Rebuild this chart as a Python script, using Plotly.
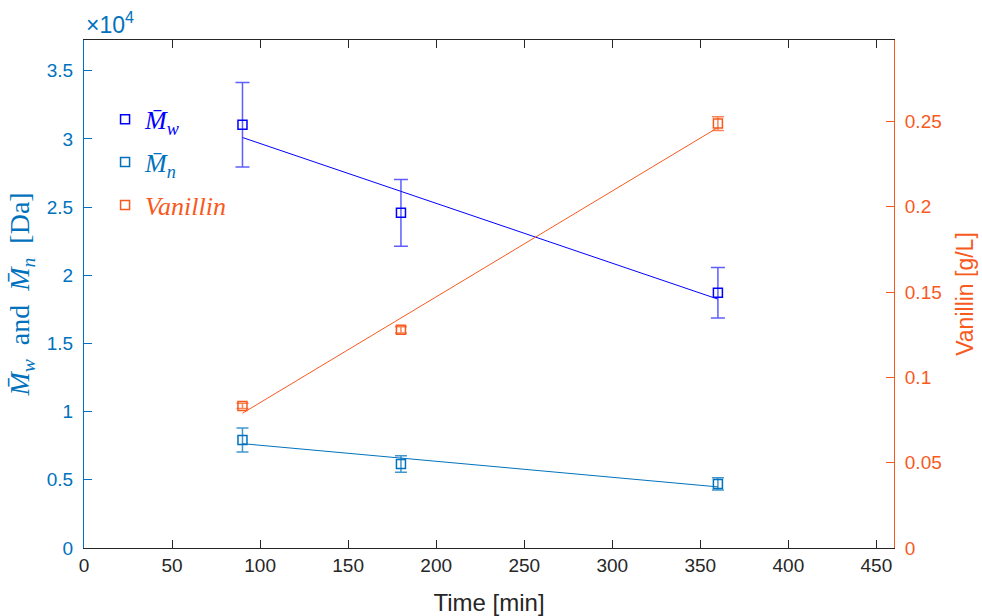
import plotly.graph_objects as go
from plotly.subplots import make_subplots

# ---- data ----
time_min = [90, 180, 360]
mw = [31040, 24580, 18710]
mw_err = [3100, 2450, 1850]
mn = [7920, 6160, 4700]
mn_err = [880, 600, 450]
vanillin = [0.0833, 0.1279, 0.2488]
vanillin_err = [0.0015, 0.0018, 0.0040]

# fitted straight lines (end points)
fit_time = [90, 360]
mw_fit = [30100, 18250]
mn_fit = [7650, 4480]
vanillin_fit = [0.0790, 0.2465]

x_ticks = [0, 50, 100, 150, 200, 250, 300, 350, 400, 450]
left_tickvals = [0, 5000, 10000, 15000, 20000, 25000, 30000, 35000]
left_ticktext = ["0", "0.5", "1", "1.5", "2", "2.5", "3", "3.5"]
right_tickvals = [0, 0.05, 0.1, 0.15, 0.2, 0.25]
right_ticktext = ["0", "0.05", "0.1", "0.15", "0.2", "0.25"]

C_MW = "#0000FF"
C_MN = "#0072BD"
C_VAN = "#F85A1E"
C_AX = "#262626"
SANS = "Liberation Sans, Arial, sans-serif"
SERIF = "Liberation Serif, DejaVu Serif, serif"
NB = "\u00a0"

fig = make_subplots(specs=[[{"secondary_y": True}]])

# fit lines
fig.add_trace(go.Scatter(x=fit_time, y=mw_fit, mode="lines",
                         line=dict(color=C_MW, width=1), showlegend=False,
                         hoverinfo="skip"), secondary_y=False)
fig.add_trace(go.Scatter(x=fit_time, y=mn_fit, mode="lines",
                         line=dict(color=C_MN, width=1), showlegend=False,
                         hoverinfo="skip"), secondary_y=False)
fig.add_trace(go.Scatter(x=fit_time, y=vanillin_fit, mode="lines",
                         line=dict(color=C_VAN, width=1), showlegend=False,
                         hoverinfo="skip"), secondary_y=True)

# data points with error bars
fig.add_trace(go.Scatter(
    x=time_min, y=mw, mode="markers",
    name="<span style='color:%s'><i>M̄<sub>w</sub></i></span>" % C_MW,
    legendgroup="a",
    marker=dict(symbol="square-open", size=9, color=C_MW, line=dict(width=1.5)),
    error_y=dict(type="data", array=mw_err, visible=True,
                 color="rgba(40,40,255,0.75)", thickness=1.5, width=7)),
    secondary_y=False)
fig.add_trace(go.Scatter(
    x=time_min, y=mn, mode="markers",
    name="<span style='color:%s'><i>M̄<sub>n</sub></i></span>" % C_MN,
    legendgroup="b",
    marker=dict(symbol="square-open", size=9, color=C_MN, line=dict(width=1.5)),
    error_y=dict(type="data", array=mn_err, visible=True,
                 color="rgba(0,114,189,0.75)", thickness=1.5, width=6)),
    secondary_y=False)
fig.add_trace(go.Scatter(
    x=time_min, y=vanillin, mode="markers",
    name="<span style='color:%s'><i>Vanillin</i></span>" % C_VAN,
    legendgroup="c",
    marker=dict(symbol="square-open", size=9, color=C_VAN, line=dict(width=1.5)),
    error_y=dict(type="data", array=vanillin_err, visible=True,
                 color="rgba(248,90,30,0.75)", thickness=1.5, width=6)),
    secondary_y=True)

tick_font = dict(family=SANS, size=19)

left_title = ("<i>M̄<sub>w</sub></i>" + NB * 2 + "and" + NB * 2 +
              "<i>M̄<sub>n</sub></i>" + NB * 2 + "[Da]")

fig.update_layout(
    width=982, height=616,
    margin=dict(l=84, r=88, t=40, b=68, autoexpand=False),
    plot_bgcolor="white", paper_bgcolor="white",
    showlegend=True,
    legend=dict(x=0.026, y=0.89, xanchor="left", yanchor="top",
                bgcolor="rgba(0,0,0,0)", borderwidth=0,
                font=dict(family=SERIF, size=26),
                traceorder="grouped", tracegroupgap=6,
                itemwidth=30),
    xaxis=dict(domain=[0, 1], range=[0, 460], tickvals=x_ticks, ticks="inside",
               ticklen=8, tickcolor=C_AX, showline=True, linecolor=C_AX, linewidth=1,
               mirror="ticks", showgrid=False, zeroline=False,
               tickfont=dict(tick_font, color=C_AX),
               title=dict(text="Time [min]", font=dict(family=SANS, size=24, color=C_AX),
                          standoff=19)),
    yaxis=dict(range=[0, 37250], tickvals=left_tickvals, ticktext=left_ticktext,
               ticks="inside", ticklen=8, tickcolor=C_MN, showline=True,
               linecolor=C_MN, linewidth=1, showgrid=False, zeroline=False,
               tickfont=dict(tick_font, color=C_MN), ticklabelstandoff=6,
               title=dict(text=left_title,
                          font=dict(family=SERIF, size=28, color=C_MN), standoff=8)),
    yaxis2=dict(range=[0, 0.2978], tickvals=right_tickvals, ticktext=right_ticktext,
                ticks="inside", ticklen=8, tickcolor=C_VAN, showline=True,
                linecolor=C_VAN, linewidth=1, showgrid=False, zeroline=False,
                tickfont=dict(tick_font, color=C_VAN), ticklabelstandoff=6,
                title=dict(text="Vanillin [g/L]",
                           font=dict(family=SANS, size=23, color=C_VAN), standoff=16)),
)

fig.add_annotation(xref="paper", yref="paper", x=0, y=1, xanchor="left",
                   yanchor="bottom", yshift=0, showarrow=False,
                   text="×10<sup>4</sup>",
                   font=dict(family=SANS, size=23, color=C_MN))

fig.write_html("out.html")
